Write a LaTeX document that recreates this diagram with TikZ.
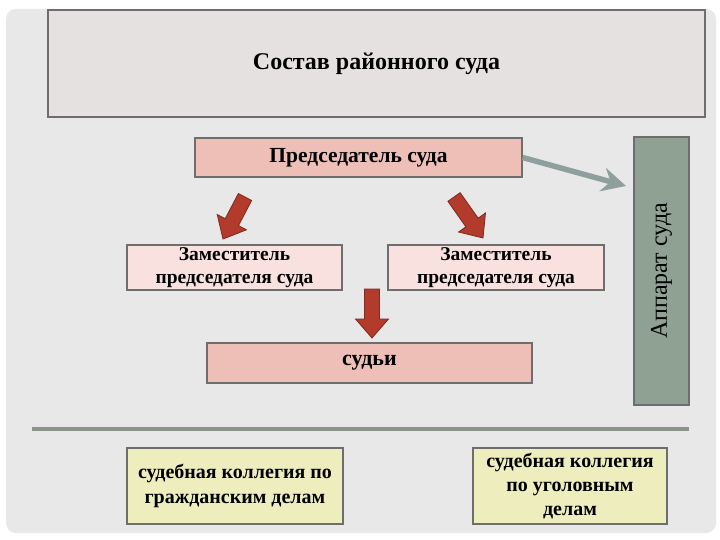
\documentclass[tikz,border=0pt]{standalone}
\usepackage{fontspec}
\setmainfont{Liberation Serif}
\usetikzlibrary{calc,arrows.meta}
\definecolor{panel}{HTML}{E8E8E8}
\definecolor{titlefill}{HTML}{E5E1E1}
\definecolor{frame}{HTML}{6E6E6E}
\definecolor{pinkA}{HTML}{EDBFB7}
\definecolor{pinkB}{HTML}{F8E1DE}
\definecolor{yell}{HTML}{EDEDBE}
\definecolor{apfill}{HTML}{8FA193}
\definecolor{redarrow}{HTML}{B23B2C}
\definecolor{rededge}{HTML}{7E2A20}
\definecolor{grayarrow}{HTML}{8E9F9D}
\definecolor{rule}{HTML}{8C948C}
\newcommand\redblock[2]{%
  \path let \p1=($(#2)-(#1)$), \n1={veclen(\x1,\y1)} in
    coordinate (hb) at ($(#1)!\n1-19pt!(#2)$);
  \draw[fill=redarrow,draw=rededge,line width=0.8pt,line join=miter]
    ($(#1)!7.5pt!90:(#2)$) -- ($(hb)!7.5pt!-90:(#1)$) -- ($(hb)!16.5pt!-90:(#1)$)
    -- (#2) -- ($(hb)!16.5pt!90:(#1)$) -- ($(hb)!7.5pt!90:(#1)$)
    -- ($(#1)!7.5pt!-90:(#2)$) -- cycle;}
\begin{document}
\begin{tikzpicture}[x=1pt,y=-1pt,
  box/.style={draw=frame,line width=1.4pt,inner sep=0pt,align=center,font=\bfseries},
  ]
\useasboundingbox (0,0) rectangle (720,540);
\fill[white] (0,0) rectangle (720,540);
\fill[panel,rounded corners=10pt] (6,9) rectangle (716,533);
% title
\node[box,fill=titlefill,minimum width=657pt,minimum height=107pt,font=\bfseries\fontsize{24}{28}\selectfont] (title) at (376.5,63.5) {Состав районного суда};
% chairman
\node[box,fill=pinkA,minimum width=327pt,minimum height=39pt,font=\bfseries\fontsize{21.5}{24}\selectfont] (chair) at (358.5,157.5) {\raisebox{-2pt}{Председатель суда}};
% deputies
\node[box,fill=pinkB,minimum width=215pt,minimum height=45pt,font=\bfseries\fontsize{19.5}{23}\selectfont] (depL) at (234.5,267.5) {Заместитель\\председателя суда};
\node[box,fill=pinkB,minimum width=216pt,minimum height=45pt,font=\bfseries\fontsize{19.5}{23}\selectfont] (depR) at (496,267.5) {Заместитель\\председателя суда};
% judges
\node[box,fill=pinkA,minimum width=325pt,minimum height=40pt,font=\bfseries\fontsize{22}{24}\selectfont] (judges) at (369.5,363) {\raisebox{-2pt}{судьи}};
% apparatus
\node[box,fill=apfill,minimum width=268pt,minimum height=55pt,rotate=90,font=\fontsize{24}{28}\selectfont] (app) at (661.5,271) {Аппарат суда};
% rule
\coordinate (ruleL) at (32,429);
\coordinate (ruleR) at (689,429);
\draw[rule,line width=4.5pt] (ruleL) -- (ruleR);
% bottom boxes
\node[box,fill=yell,minimum width=216pt,minimum height=76pt,font=\bfseries\fontsize{20}{25}\selectfont] (civ) at (235,486) {судебная коллегия по\\гражданским делам};
\node[box,fill=yell,minimum width=194pt,minimum height=76pt,font=\bfseries\fontsize{20}{24}\selectfont] (crim) at (570,486) {судебная коллегия\\по уголовным\\делам};
% arrows
\coordinate (aLs) at (245,197);
\coordinate (aLe) at (223,239);
\coordinate (aRs) at (454,197);
\coordinate (aRe) at (483,238);
\coordinate (aMs) at (372,289);
\coordinate (aMe) at (372,338);
\redblock{aLs}{aLe}
\redblock{aRs}{aRe}
\redblock{aMs}{aMe}
\coordinate (gEnd) at (626,186);
\draw[grayarrow,line width=5.5pt,-{Stealth[length=24pt,width=24pt,inset=8pt]}] (chair.east) -- (gEnd);
\end{tikzpicture}
\end{document}
